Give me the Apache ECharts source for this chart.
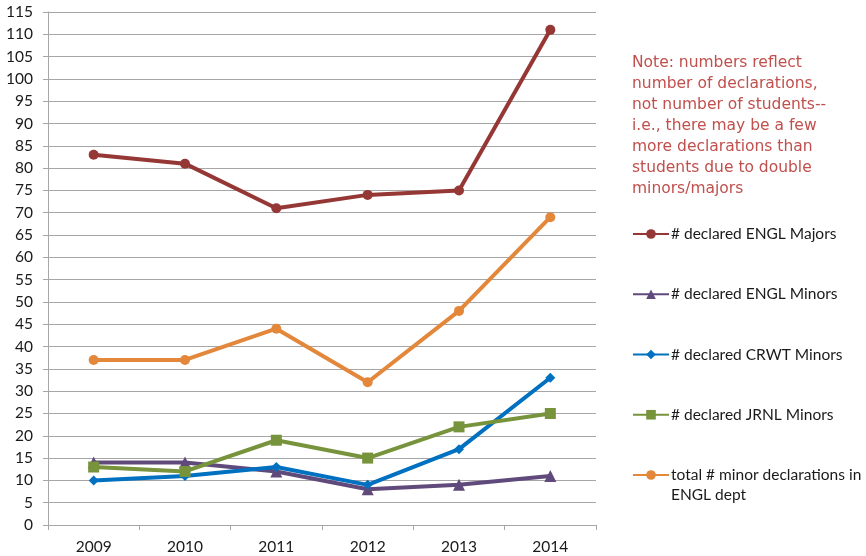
<!DOCTYPE html>
<html>
<head>
<meta charset="utf-8">
<script src="https://cdn.jsdelivr.net/npm/echarts@6/dist/echarts.min.js"></script>
<style>
  html, body { margin: 0; padding: 0; background: #fff; }
  #main { width: 866px; height: 556px; }
</style>
</head>
<body>
<div id="main"></div>
<script>
// 数据
const years = ['2009', '2010', '2011', '2012', '2013', '2014']
const engMajors = [83, 81, 71, 74, 75, 111]
const engMinors = [14, 14, 12, 8, 9, 11]
const crwtMinors = [10, 11, 13, 9, 17, 33]
const jrnlMinors = [13, 12, 19, 15, 22, 25]
const totalMinors = [37, 37, 44, 32, 48, 69]

const seriesNames = [
  '# declared ENGL Majors',
  '# declared ENGL Minors',
  '# declared CRWT Minors',
  '# declared JRNL Minors',
  'total # minor declarations in ENGL dept'
]

const noteLines = [
  'Note: numbers reflect',
  'number of declarations,',
  'not number of students--',
  'i.e., there may be a few',
  'more declarations than',
  'students due to double',
  'minors/majors'
]

const font = 'Lato, "Open Sans", sans-serif'

const myChart = echarts.init(document.getElementById('main'))

function line (name, data, color, symbol, size) {
  return {
    name: name,
    type: 'line',
    data: data,
    symbol: symbol,
    symbolSize: size,
    lineStyle: { color: color, width: 4 },
    itemStyle: { color: color },
    emphasis: { disabled: true }
  }
}

const option = {
  animation: false,
  backgroundColor: '#fff',
  grid: { left: 48, right: 270, top: 12, bottom: 31 },
  xAxis: {
    type: 'category',
    data: years,
    boundaryGap: true,
    axisLine: { lineStyle: { color: '#a6a6a6', width: 1 } },
    axisTick: { show: true, length: 5, lineStyle: { color: '#a6a6a6' } },
    axisLabel: { color: '#1a1a1a', fontSize: 15.5, fontFamily: font, margin: 14 }
  },
  yAxis: {
    type: 'value',
    min: 0,
    max: 115,
    interval: 5,
    axisLine: { show: true, lineStyle: { color: '#a6a6a6', width: 1 } },
    axisTick: { show: true, length: 5, lineStyle: { color: '#a6a6a6' } },
    axisLabel: { color: '#1a1a1a', fontSize: 15.5, fontFamily: font, margin: 15 },
    splitLine: { lineStyle: { color: '#a6a6a6', width: 1 } }
  },
  legend: {
    orient: 'vertical',
    left: 632,
    top: 224,
    padding: 0,
    itemWidth: 36,
    itemHeight: 12,
    itemGap: 40.25,
    data: seriesNames,
    formatter: function (n) {
      return n === seriesNames[4] ? 'total # minor declarations in' : n
    },
    textStyle: { color: '#1a1a1a', fontSize: 15.5, fontFamily: font, lineHeight: 20, padding: [0, 0, 0, -3] }
  },
  graphic: [
    {
      type: 'text',
      left: 632,
      top: 52,
      style: {
        text: noteLines.join('\n'),
        fill: '#c0504d',
        font: '15.5px "DejaVu Sans", sans-serif',
        lineHeight: 21
      }
    },
    {
      type: 'text',
      left: 671,
      top: 487,
      style: {
        text: 'ENGL dept',
        fill: '#1a1a1a',
        font: '15.5px ' + font
      }
    }
  ],
  series: [
    line(seriesNames[0], engMajors, '#953735', 'circle', 10),
    line(seriesNames[1], engMinors, '#604a7b', 'triangle', 12),
    line(seriesNames[2], crwtMinors, '#0070c0', 'diamond', 10),
    line(seriesNames[3], jrnlMinors, '#77933c', 'rect', 11),
    line(seriesNames[4], totalMinors, '#e3873b', 'circle', 10)
  ]
}

myChart.setOption(option)
</script>
</body>
</html>
